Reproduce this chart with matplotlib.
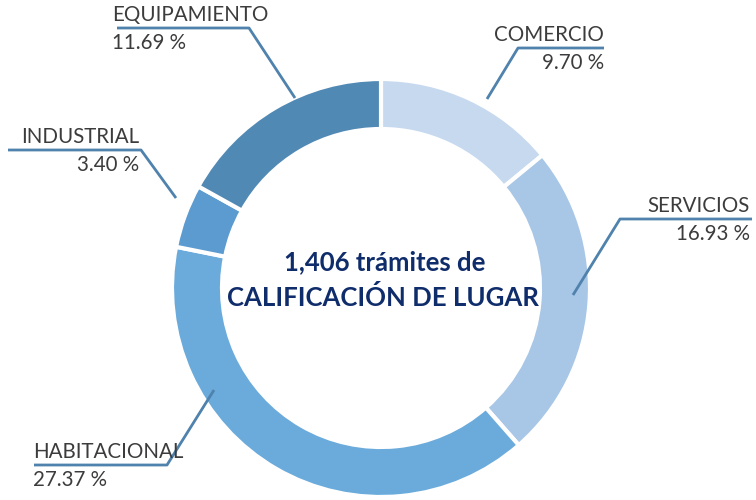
import matplotlib
matplotlib.use("Agg")
import matplotlib.pyplot as plt

categories = ["COMERCIO", "SERVICIOS", "HABITACIONAL", "INDUSTRIAL", "EQUIPAMIENTO"]
values = [9.70, 16.93, 27.37, 3.40, 11.69]
value_labels = ["9.70 %", "16.93 %", "27.37 %", "3.40 %", "11.69 %"]
colors = ["#c6d9ef", "#a8c6e6", "#6aabdc", "#5b9bd0", "#5189b5"]
center_text = ["1,406 trámites de", "CALIFICACIÓN DE LUGAR"]

W, H = 756, 500
fig = plt.figure(figsize=(W / 100, H / 100), dpi=100)
ax = fig.add_axes([0, 0, 1, 1])

cx, cy, R = 381, H - 288, 209
ax.pie(values, colors=colors, startangle=90, counterclock=False,
       center=(cx, cy), radius=R, frame=True,
       wedgeprops=dict(width=50, edgecolor="white", linewidth=3))
ax.set_xlim(0, W)
ax.set_ylim(0, H)
ax.set_aspect("equal")
ax.axis("off")

font = "Lato"
line_c = "#4f82ad"
txt_c = "#3c3c3c"
layouts = [
    dict(pts=[(487, 99), (518, 48), (604, 48)], ha="right", tx=604),
    dict(pts=[(573, 295), (620, 219), (752, 219)], ha="right", tx=750),
    dict(pts=[(214, 390), (167, 465), (34, 465)], ha="left", tx=33),
    dict(pts=[(176, 198), (141, 150), (8, 150)], ha="right", tx=139),
    dict(pts=[(295, 98), (249, 28), (117, 28)], ha="left", tx=112),
]
for cat, vl, lay in zip(categories, value_labels, layouts):
    xs = [p[0] for p in lay["pts"]]
    ys = [H - p[1] for p in lay["pts"]]
    ax.plot(xs, ys, color=line_c, lw=2, solid_capstyle="butt", zorder=3)
    ly = H - lay["pts"][1][1]
    ax.text(lay["tx"], ly + 3, cat, ha=lay["ha"], va="bottom", fontsize=14.8,
            family=font, color=txt_c)
    ax.text(lay["tx"], ly - 5, vl, ha=lay["ha"], va="top", fontsize=14.8,
            family=font, color=txt_c)

ax.text(cx + 4, H - 262, center_text[0], ha="center", va="center", fontsize=18.5,
        family=font, weight="bold", color="#0f2c6b")
ax.text(cx + 2, H - 297, center_text[1], ha="center", va="center", fontsize=18.5,
        family=font, weight="bold", color="#0f2c6b")

fig.savefig("out.png", dpi=100)
